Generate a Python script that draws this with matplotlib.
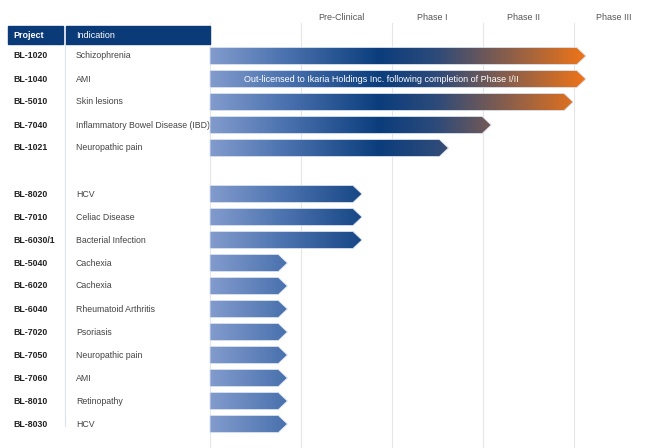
import matplotlib
matplotlib.use("Agg")
import matplotlib.pyplot as plt
import numpy as np
from matplotlib.patches import Polygon, Rectangle
from matplotlib.colors import LinearSegmentedColormap

plt.rcParams['font.family'] = ['Liberation Sans Narrow', 'Liberation Sans', 'DejaVu Sans']

# pipeline data (row index, project, indication, progress in phase units)
projects = ['BL-1020', 'BL-1040', 'BL-5010', 'BL-7040', 'BL-1021',
            'BL-8020', 'BL-7010', 'BL-6030/1', 'BL-5040', 'BL-6020', 'BL-6040',
            'BL-7020', 'BL-7050', 'BL-7060', 'BL-8010', 'BL-8030']
indications = ['Schizophrenia', 'AMI', 'Skin lesions', 'Inflammatory Bowel Disease (IBD)',
               'Neuropathic pain', 'HCV', 'Celiac Disease', 'Bacterial Infection', 'Cachexia',
               'Cachexia', 'Rheumatoid Arthritis', 'Psoriasis', 'Neuropathic pain', 'AMI',
               'Retinopathy', 'HCV']
rows = [0, 1, 2, 3, 4, 6, 7, 8, 9, 10, 11, 12, 13, 14, 15, 16]
progress = [4.13, 4.13, 3.99, 3.09, 2.62, 1.67, 1.67, 1.67, 0.85, 0.85, 0.85,
            0.85, 0.85, 0.85, 0.85, 0.85]
phases = ['Pre-Clinical', 'Phase I', 'Phase II', 'Phase III']
note = 'Out-licensed to Ikaria Holdings Inc. following completion of Phase I/II'

W, H = 654, 448
fig = plt.figure(figsize=(W / 100, H / 100), dpi=100)
ax = fig.add_axes([0, 0, 1, 1])
px = 91.0
ax.axis('off')

navy = '#0b3a78'
# phase grid lines
for k in range(5):
    ax.plot([k, k], [(23 - 56) / 23.0, 18], color='#e6e6e6', lw=0.8, zorder=0)
for k, name in enumerate(phases):
    ax.text(k + 1.44, -1.68, name, ha='center', va='center', fontsize=6.5, color='#555555')

# table header
ax.add_patch(Rectangle((8 / px - 210 / px, -1.30), 55 / px, 0.78, color=navy, zorder=2))
ax.add_patch(Rectangle((66 / px - 210 / px, -1.30), 144 / px, 0.78, color=navy, zorder=2))
ax.text(0.021, -0.91, 'Project', transform=ax.get_yaxis_transform(), fontsize=6.5,
        color='white', va='center', fontweight='bold', zorder=3)
ax.text(0.116, -0.91, 'Indication', transform=ax.get_yaxis_transform(), fontsize=6.5,
        color='white', va='center', zorder=3)
ax.plot([(65 - 210) / px] * 2, [-0.5, 16.1], color='#dde3ee', lw=0.8, zorder=1)

for r, p, ind in zip(rows, projects, indications):
    ax.text(0.021, r, p, transform=ax.get_yaxis_transform(), fontsize=6.3,
            color='#222222', va='center', fontweight='bold')
    ax.text(0.116, r, ind, transform=ax.get_yaxis_transform(), fontsize=6.3,
            color='#444444', va='center')

# gradient bars
cmap = LinearSegmentedColormap.from_list(
    'pipe', [(0.0, '#829bcd'), (0.2, '#4a72ae'), (0.45, '#0b3d7c'), (0.6, '#2c4a7a'),
             (1.0, '#ee7418')])
grad = np.linspace(0, 1, 512).reshape(1, -1)
xmax = 4.13
h = 0.74
tip = 9 / px
for r, end in zip(rows, progress):
    verts = [(0, r - h / 2), (end - tip, r - h / 2), (end, r), (end - tip, r + h / 2), (0, r + h / 2)]
    poly = Polygon(verts, closed=True, facecolor='none', edgecolor='#d8e2f0', lw=0.6, zorder=3)
    ax.add_patch(poly)
    im = ax.imshow(grad, cmap=cmap, aspect='auto', extent=(0, xmax, r + h / 2, r - h / 2),
                   zorder=2, interpolation='bilinear')
    im.set_clip_path(poly)

ax.set_xlim((0 - 210) / px, (W - 210) / px)
ax.set_ylim((H - 56) / 23.0, (0 - 56) / 23.0)
ax.text(1.88, 1, note, ha='center', va='center', fontsize=6.5, color='white', zorder=4)

fig.savefig('out.png', dpi=100)
